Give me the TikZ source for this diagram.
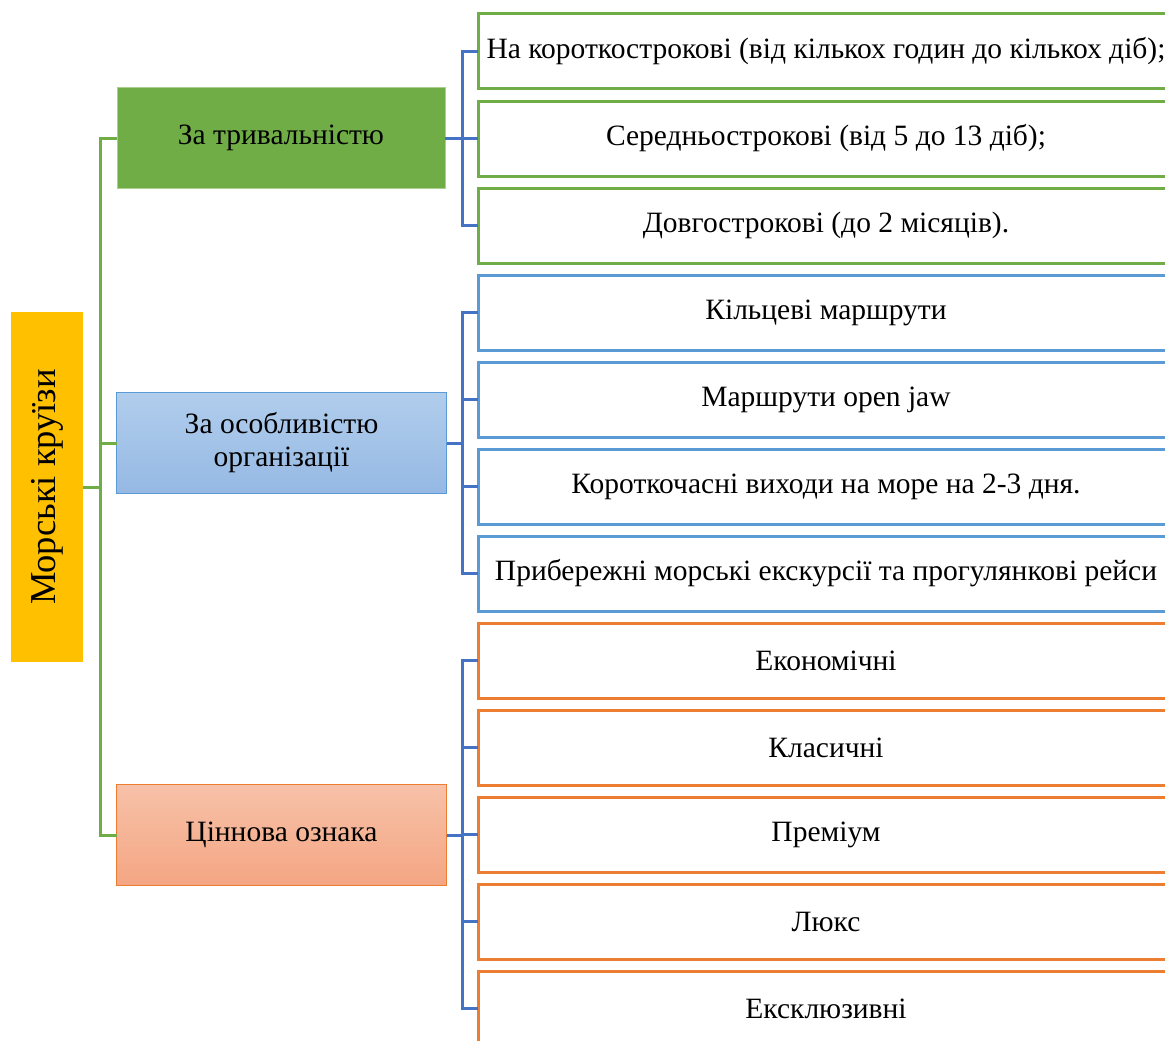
\documentclass[tikz,border=0pt]{standalone}
\usepackage{fontspec}
\setmainfont{Liberation Serif}
\usetikzlibrary{calc}
\definecolor{cgreen}{HTML}{70AD47}
\definecolor{cgreenedge}{HTML}{A9D08E}
\definecolor{cblue}{HTML}{5B9BD5}
\definecolor{cbluetop}{HTML}{B1CDEC}
\definecolor{cbluebot}{HTML}{95B9E4}
\definecolor{corange}{HTML}{ED7D31}
\definecolor{corangetop}{HTML}{F7C1A8}
\definecolor{corangebot}{HTML}{F4A683}
\definecolor{cconn}{HTML}{4472C4}
\definecolor{cgold}{HTML}{FFC000}
\begin{document}
\begin{tikzpicture}[x=1pt,y=-1pt,
  every node/.style={inner sep=0pt,outer sep=0pt,align=center,font=\fontsize{29.5}{33}\selectfont},
  leaf/.style={draw,line width=3pt,fill=white,minimum width=696pt,minimum height=75pt},
  gleaf/.style={leaf,draw=cgreen},
  bleaf/.style={leaf,draw=cblue},
  oleaf/.style={leaf,draw=corange},
  catbox/.style={minimum width=330pt,minimum height=101pt,line width=1pt},
  conn/.style={draw=cconn,line width=3pt},
  trunk/.style={draw=cgreen,line width=3pt}]
\useasboundingbox (0,0) rectangle (1165,1041);
\clip (0,0) rectangle (1165,1041);
% root
\node[fill=cgold,rotate=90,minimum width=350pt,minimum height=72pt,font=\fontsize{36.5}{40}\selectfont] (root) at (47,487) {Морські круїзи};
% categories
\node[catbox,fill=cgreen,draw=cgreenedge,minimum width=328pt,minimum height=100pt] (c1) at (281,138) {За тривальністю};
\node[catbox,top color=cbluetop,bottom color=cbluebot,draw=cblue] (c2) at (281.5,443) {За особливістю\\організації};
\node[catbox,top color=corangetop,bottom color=corangebot,draw=corange] (c3) at (281.5,835) {Ціннова ознака};
% leaves group 1
\node[gleaf] (l11) at (826,51.5) {На короткострокові (від кількох годин до кількох діб);};
\node[gleaf] (l12) at (826,138.5) {Середньострокові (від 5 до 13 діб);};
\node[gleaf] (l13) at (826,225.5) {Довгострокові (до 2 місяців).};
% leaves group 2
\node[bleaf] (l21) at (826,312.5) {Кільцеві маршрути};
\node[bleaf] (l22) at (826,399.5) {Маршрути open jaw};
\node[bleaf] (l23) at (826,486.5) {Короткочасні виходи на море на 2-3 дня.};
\node[bleaf] (l24) at (826,573.5) {Прибережні морські екскурсії та прогулянкові рейси};
% leaves group 3
\node[oleaf] (l31) at (826,660.5) {Економічні};
\node[oleaf] (l32) at (826,747.5) {Класичні};
\node[oleaf] (l33) at (826,834.5) {Преміум};
\node[oleaf] (l34) at (826,921.5) {Люкс};
\node[oleaf] (l35) at (826,1008.5) {Ексклюзивні};
% trunk
\coordinate (t) at (100,487);
\draw[trunk] (root.south) -- (t);
\draw[trunk] (t) |- (c1.west);
\draw[trunk] (t) |- (c2.west);
\draw[trunk] (t) |- (c3.west);
% connectors
\coordinate (j1) at (462,138);
\coordinate (j2) at (462,443);
\coordinate (j3) at (462,835);
\draw[conn] (c1.east) -- (j1);
\foreach \l in {l11,l12,l13} \draw[conn] (j1) |- (\l.west);
\draw[conn] (c2.east) -- (j2);
\foreach \l in {l21,l22,l23,l24} \draw[conn] (j2) |- (\l.west);
\draw[conn] (c3.east) -- (j3);
\foreach \l in {l31,l32,l33,l34,l35} \draw[conn] (j3) |- (\l.west);
\end{tikzpicture}
\end{document}
